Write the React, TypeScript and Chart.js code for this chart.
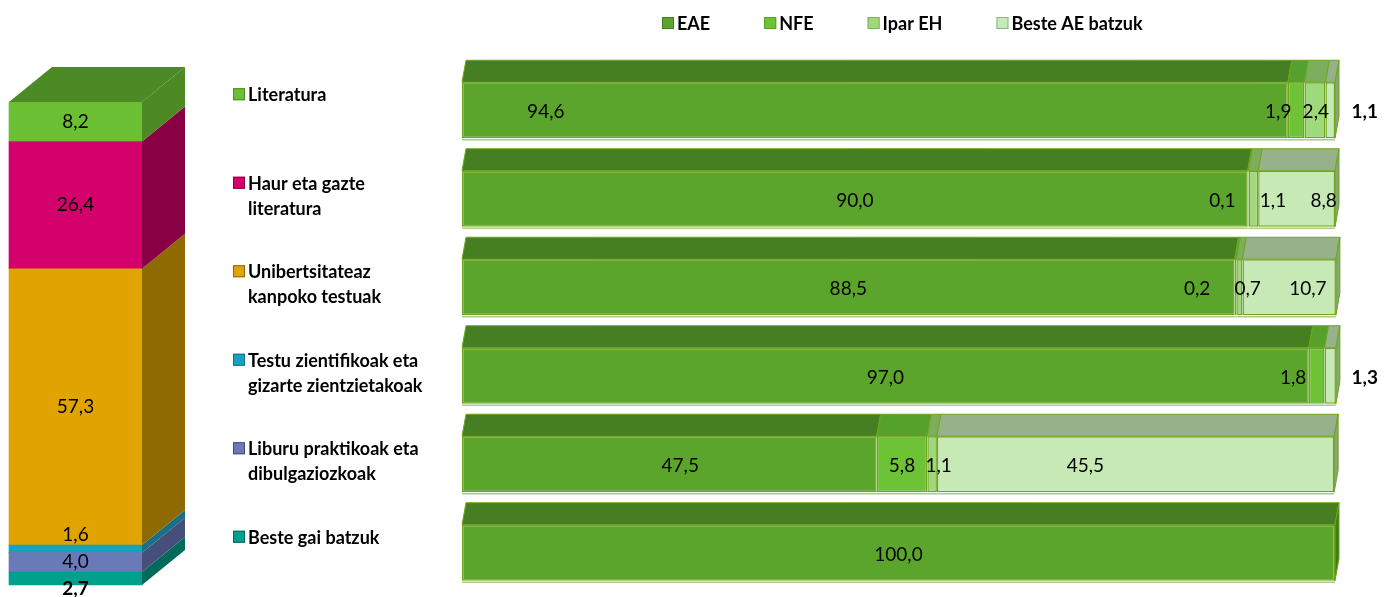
import React, { useEffect, useRef } from 'react';
import { Chart, registerables } from 'chart.js';

Chart.register(...registerables);

// ---------- DATA ----------
const topicLabels: string[][] = [
  ['Literatura'],
  ['Haur eta gazte', 'literatura'],
  ['Unibertsitateaz', 'kanpoko testuak'],
  ['Testu zientifikoak eta', 'gizarte zientzietakoak'],
  ['Liburu praktikoak eta', 'dibulgaziozkoak'],
  ['Beste gai batzuk'],
];
// share of each topic (left stacked column), same order as topicLabels
const topicShares = [8.2, 26.4, 57.3, 1.6, 4.0, 2.7];

const regionNames = ['EAE', 'NFE', 'Ipar EH', 'Beste AE batzuk'];
const eaeValues = [94.6, 90.0, 88.5, 97.0, 47.5, 100.0];
const nfeValues = [1.9, 0.1, 0.2, 1.8, 5.8, 0];
const iparEhValues = [2.4, 1.1, 0.7, 0, 1.1, 0];
const besteAeValues = [1.1, 8.8, 10.7, 1.3, 45.5, 0];

// where each value label sits, in axis units (null = middle of its segment)
const topicLabelAt: (number | null)[] = [null, null, null, 10.35, 4.76, -0.8];
const eaeLabelAt: (number | null)[] = [9.6, null, null, null, 25, null];
const nfeLabelAt: (number | null)[] = [93.5, 87.1, 84.2, 95.2, null, null];
const iparEhLabelAt: (number | null)[] = [97.8, 92.9, 90.0, null, 54.6, null];
const besteAeLabelAt: (number | null)[] = [103.4, 98.7, 96.9, 103.4, 71.4, null];

// ---------- STYLE ----------
const topicColors = ['#6abf33', '#d4006c', '#e0a300', '#17a0c2', '#6a7ab9', '#00a08c'];
const topicSideColors = ['#4d8a24', '#8a0044', '#8f6a00', '#1a6f88', '#454f7a', '#006a5c'];
const topicTopColor = '#4b8a25';

const regionColors = ['#5ca52c', '#6dc236', '#9fd97c', '#c6e9b6'];
const regionTopColors = ['#467f22', '#56a02c', '#7cae5e', '#97b28a'];
const regionSideColors = ['#3f7a1c', '#4f9626', '#78a65a', '#86a676'];
const barBorder = '#6fa51c';

const FONT = 'Lato, "Open Sans", "DejaVu Sans", sans-serif';

const fmt = (v: number) => v.toFixed(1).replace('.', ',');

// ---------- PLUGINS ----------
function segBox(el: any, horizontal: boolean) {
  const p = el.getProps(['x', 'y', 'base', 'width', 'height'], true);
  if (horizontal) {
    return { l: Math.min(p.base, p.x), r: Math.max(p.base, p.x), t: p.y - p.height / 2, b: p.y + p.height / 2 };
  }
  return { l: p.x - p.width / 2, r: p.x + p.width / 2, t: Math.min(p.y, p.base), b: Math.max(p.y, p.base) };
}

function poly(ctx: CanvasRenderingContext2D, pts: number[][], fill: string, stroke?: string) {
  ctx.beginPath();
  ctx.moveTo(pts[0][0], pts[0][1]);
  for (let i = 1; i < pts.length; i++) ctx.lineTo(pts[i][0], pts[i][1]);
  ctx.closePath();
  ctx.fillStyle = fill;
  ctx.fill();
  if (stroke) {
    ctx.strokeStyle = stroke;
    ctx.lineWidth = 1;
    ctx.stroke();
  }
}

const threeDPlugin = {
  id: 'threeD',
  afterDatasetsDraw(chart: any, _args: any, opts: any) {
    const ctx: CanvasRenderingContext2D = chart.ctx;
    const horizontal = chart.options.indexAxis === 'y';
    const dx = opts.dx, dy = opts.dy;
    const dsets = chart.data.datasets;
    ctx.save();
    dsets.forEach((ds: any, di: number) => {
      const meta = chart.getDatasetMeta(di);
      meta.data.forEach((el: any, j: number) => {
        const v = ds.data[j];
        if (!v) return;
        const { l, r, t, b } = segBox(el, horizontal);
        let lastNonZero = true;
        for (let k = di + 1; k < dsets.length; k++) if (dsets[k].data[j]) lastNonZero = false;
        const drawTop = horizontal || lastNonZero;
        const drawSide = !horizontal || lastNonZero;
        if (drawTop) {
          poly(ctx, [[l, t], [r, t], [r + dx, t + dy], [l + dx, t + dy]], ds.topColor, opts.stroke);
        }
        if (drawSide) {
          poly(ctx, [[r, t], [r + dx, t + dy], [r + dx, b + dy], [r, b]], ds.sideColor, opts.stroke);
        }
        if (horizontal && opts.underline) {
          ctx.strokeStyle = opts.underline;
          ctx.lineWidth = 1.5;
          ctx.beginPath();
          ctx.moveTo(l, b + 1.5);
          ctx.lineTo(r, b + 1.5);
          ctx.stroke();
        }
      });
    });
    ctx.restore();
  },
};

const valueLabelPlugin = {
  id: 'valueLabels',
  afterDraw(chart: any, _args: any, opts: any) {
    const ctx: CanvasRenderingContext2D = chart.ctx;
    const horizontal = chart.options.indexAxis === 'y';
    const valScale = horizontal ? chart.scales.x : chart.scales.y;
    ctx.save();
    ctx.textAlign = 'center';
    ctx.textBaseline = 'middle';
    ctx.fillStyle = '#000';
    chart.data.datasets.forEach((ds: any, di: number) => {
      const meta = chart.getDatasetMeta(di);
      meta.data.forEach((el: any, j: number) => {
        const v = ds.data[j];
        if (!v) return;
        const anchor = ds.labelAt ? ds.labelAt[j] : null;
        const box = segBox(el, horizontal);
        const outside = anchor !== null && anchor !== undefined && (anchor < valScale.min || anchor > valScale.max);
        ctx.font = (outside ? 'bold ' : '') + opts.size + 'px ' + FONT;
        let x: number, y: number;
        if (horizontal) {
          x = anchor === null || anchor === undefined ? (box.l + box.r) / 2 : valScale.getPixelForValue(anchor);
          y = (box.t + box.b) / 2 + opts.yShift;
        } else {
          x = (box.l + box.r) / 2;
          y = anchor === null || anchor === undefined ? (box.t + box.b) / 2 : valScale.getPixelForValue(anchor);
        }
        ctx.fillText(fmt(v), x, y);
      });
    });
    ctx.restore();
  },
};

const sideTextPlugin = {
  id: 'sideText',
  afterDraw(chart: any) {
    const ctx: CanvasRenderingContext2D = chart.ctx;
    const yScale = chart.scales.y;
    const area = chart.chartArea;
    ctx.save();
    // topic labels with colour keys
    ctx.textBaseline = 'middle';
    ctx.textAlign = 'left';
    topicLabels.forEach((lines, i) => {
      const cy = yScale.getPixelForValue(i);
      const y0 = cy - 15;
      ctx.fillStyle = topicColors[i];
      ctx.fillRect(3, y0 - 7, 12, 12);
      ctx.strokeStyle = topicSideColors[i];
      ctx.lineWidth = 1;
      ctx.strokeRect(3.5, y0 - 6.5, 11, 11);
      ctx.fillStyle = '#000';
      ctx.font = 'bold 18px ' + FONT;
      lines.forEach((line, k) => ctx.fillText(line, 18, y0 + k * 25));
    });
    // legend
    let x = area.left + 200;
    const ly = 24;
    ctx.font = 'bold 18px ' + FONT;
    regionNames.forEach((name, i) => {
      ctx.fillStyle = regionColors[i];
      ctx.fillRect(x, ly - 7, 12, 12);
      ctx.strokeStyle = regionTopColors[i];
      ctx.lineWidth = 1;
      ctx.strokeRect(x + 0.5, ly - 6.5, 11, 11);
      ctx.fillStyle = '#000';
      ctx.fillText(name, x + 15, ly);
      x += 15 + ctx.measureText(name).width + 54;
    });
    ctx.restore();
  },
};

// ---------- COMPONENT ----------
export default function App() {
  const leftRef = useRef<HTMLCanvasElement>(null);
  const rightRef = useRef<HTMLCanvasElement>(null);

  useEffect(() => {
    const order = topicShares.map((_, i) => i).reverse(); // bottom segment first
    const total = topicShares.reduce((a, b) => a + b, 0);
    const left = new Chart(leftRef.current!, {
      type: 'bar',
      data: {
        labels: [''],
        datasets: order.map((i) => ({
          label: topicLabels[i].join(' '),
          data: [topicShares[i]],
          backgroundColor: topicColors[i],
          borderWidth: 0,
          barPercentage: 1,
          categoryPercentage: 1,
          topColor: topicTopColor,
          sideColor: topicSideColors[i],
          labelAt: [topicLabelAt[i]],
          clip: false,
        })) as any,
      },
      options: {
        animation: false,
        responsive: false,
        devicePixelRatio: 1,
        layout: { padding: { left: 9, right: 88, top: 102, bottom: 12 } },
        scales: {
          x: { stacked: true, display: false },
          y: { stacked: true, display: false, min: 0, max: total },
        },
        plugins: {
          legend: { display: false },
          tooltip: { enabled: false },
          threeD: { dx: 43, dy: -35 },
          valueLabels: { size: 19, yShift: 0 },
        } as any,
      },
      plugins: [threeDPlugin, valueLabelPlugin],
    });

    const series = [eaeValues, nfeValues, iparEhValues, besteAeValues];
    const anchors = [eaeLabelAt, nfeLabelAt, iparEhLabelAt, besteAeLabelAt];
    const right = new Chart(rightRef.current!, {
      type: 'bar',
      data: {
        labels: topicLabels.map((l) => l.join(' ')),
        datasets: regionNames.map((name, i) => ({
          label: name,
          data: series[i],
          backgroundColor: regionColors[i],
          borderColor: barBorder,
          borderWidth: 1.5,
          borderSkipped: false,
          barPercentage: 0.633,
          categoryPercentage: 1,
          topColor: regionTopColors[i],
          sideColor: regionSideColors[i],
          labelAt: anchors[i],
          clip: false,
        })) as any,
      },
      options: {
        indexAxis: 'y',
        animation: false,
        responsive: false,
        devicePixelRatio: 1,
        layout: { padding: { left: 232, right: 56, top: 66, bottom: 0 } },
        scales: {
          x: { stacked: true, display: false, min: 0, max: 100 },
          y: { stacked: true, display: false },
        },
        plugins: {
          legend: { display: false },
          tooltip: { enabled: false },
          threeD: { dx: 4, dy: -22, stroke: barBorder, underline: '#a9cc82' },
          valueLabels: { size: 19, yShift: 2 },
        } as any,
      },
      plugins: [threeDPlugin, valueLabelPlugin, sideTextPlugin],
    });

    return () => {
      left.destroy();
      right.destroy();
    };
  }, []);

  return (
    <div style={{ position: 'absolute', left: 0, top: 0, width: 1391, height: 597, background: '#fff', overflow: 'hidden' }}>
      <canvas ref={leftRef} width={230} height={597} style={{ position: 'absolute', left: 0, top: 0, width: 230, height: 597 }} />
      <canvas ref={rightRef} width={1161} height={597} style={{ position: 'absolute', left: 230, top: 0, width: 1161, height: 597 }} />
    </div>
  );
}
